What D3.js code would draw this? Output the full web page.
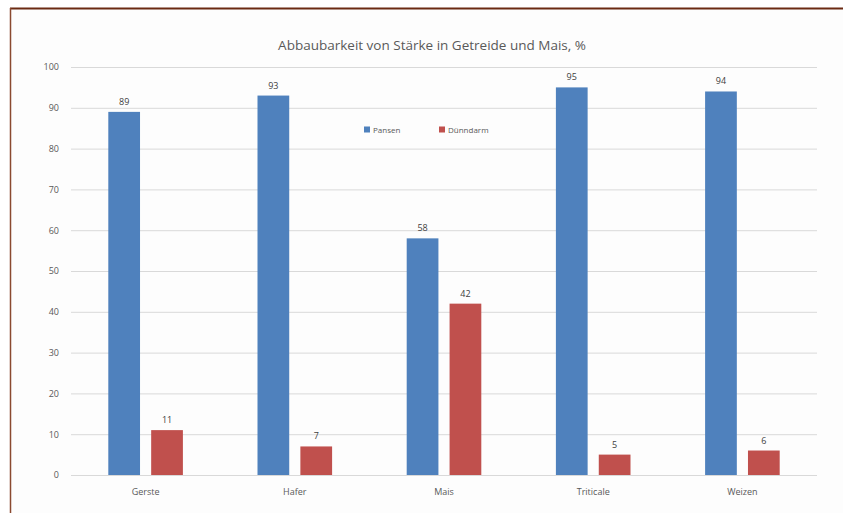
<!DOCTYPE html>
<html>
<head>
<meta charset="utf-8">
<script src="https://cdn.jsdelivr.net/npm/d3@7"></script>
<style>
  body { margin: 0; background: #fff; }
  text { font-family: "Open Sans", "DejaVu Sans", sans-serif; }
</style>
</head>
<body>
<div id="chart"></div>
<script>
// data
var categories = ["Gerste", "Hafer", "Mais", "Triticale", "Weizen"];
var seriesNames = ["Pansen", "Dünndarm"];
var pansen = [89, 93, 58, 95, 94];
var duenndarm = [11, 7, 42, 5, 6];
var yTicks = [0, 10, 20, 30, 40, 50, 60, 70, 80, 90, 100];
var colors = ["#4f81bd", "#c0504d"];

var W = 843, H = 513;
var margin = { top: 67, right: 26, bottom: 38, left: 71 };
var width = W - margin.left - margin.right,
    height = H - margin.top - margin.bottom;

var svg = d3.select("#chart").append("svg")
  .attr("width", W).attr("height", H);

// frame of the figure: top and left line
svg.append("rect").attr("x", 10).attr("y", 8).attr("width", W - 10).attr("height", H - 8)
  .attr("fill", "#fdfdfd");
svg.append("line").attr("x1", 10).attr("x2", W).attr("y1", 8.5).attr("y2", 8.5)
  .attr("stroke", "#6b2a12").attr("stroke-width", 2);
svg.append("line").attr("x1", 10.5).attr("x2", 10.5).attr("y1", 8).attr("y2", H)
  .attr("stroke", "#8a4a30").attr("stroke-width", 1.5);

var g = svg.append("g")
  .attr("transform", "translate(" + margin.left + "," + margin.top + ")");

var x0 = d3.scaleBand().domain(categories).range([0, width])
  .paddingInner(0.5).paddingOuter(0.25);
var x1 = d3.scaleBand().domain(seriesNames).range([0, x0.bandwidth()])
  .paddingInner(0.26).paddingOuter(0);
var y = d3.scaleLinear().domain([0, 100]).range([height, 0]);

// gridlines
g.append("g").selectAll("line").data(yTicks).enter().append("line")
  .attr("x1", 0).attr("x2", width)
  .attr("y1", function(d) { return y(d) + 0.5; })
  .attr("y2", function(d) { return y(d) + 0.5; })
  .attr("stroke", "#d9d9d9").attr("stroke-width", 1);

// y axis
var yAxis = g.append("g")
  .call(d3.axisLeft(y).tickValues(yTicks).tickSize(0).tickPadding(12));
yAxis.select(".domain").remove();
yAxis.selectAll("text").attr("fill", "#595959").style("font-size", "9px");

// x axis
var xAxis = g.append("g").attr("transform", "translate(0," + height + ")")
  .call(d3.axisBottom(x0).tickSize(0).tickPadding(14));
xAxis.select(".domain").remove();
xAxis.selectAll("text").attr("fill", "#595959").style("font-size", "9px");

var rows = categories.map(function(c, i) {
  return { cat: c, vals: [
    { name: seriesNames[0], value: pansen[i], color: colors[0] },
    { name: seriesNames[1], value: duenndarm[i], color: colors[1] }
  ] };
});

var groups = g.selectAll(".grp").data(rows).enter().append("g")
  .attr("class", "grp")
  .attr("transform", function(d) { return "translate(" + x0(d.cat) + ",0)"; });

groups.selectAll("rect").data(function(d) { return d.vals; }).enter().append("rect")
  .attr("x", function(d) { return x1(d.name); })
  .attr("y", function(d) { return y(d.value); })
  .attr("width", x1.bandwidth())
  .attr("height", function(d) { return height - y(d.value); })
  .attr("fill", function(d) { return d.color; });

groups.selectAll(".lbl").data(function(d) { return d.vals; }).enter().append("text")
  .attr("class", "lbl")
  .attr("x", function(d) { return x1(d.name) + x1.bandwidth() / 2; })
  .attr("y", function(d) { return y(d.value) - 7; })
  .attr("text-anchor", "middle")
  .attr("fill", "#404040")
  .style("font-size", "9px")
  .text(function(d) { return d.value; });

// title
svg.append("text").attr("x", 432).attr("y", 50).attr("text-anchor", "middle")
  .attr("fill", "#595959").style("font-size", "13.5px")
  .text("Abbaubarkeit von Stärke in Getreide und Mais, %");

// legend
var legend = svg.append("g").attr("transform", "translate(364,130)");
var lx = [0, 75];
seriesNames.forEach(function(s, i) {
  legend.append("rect").attr("x", lx[i]).attr("y", -3.5).attr("width", 6).attr("height", 6)
    .attr("fill", colors[i]);
  legend.append("text").attr("x", lx[i] + 9).attr("y", 3)
    .attr("fill", "#595959").style("font-size", "8px").text(s);
});
</script>
</body>
</html>
